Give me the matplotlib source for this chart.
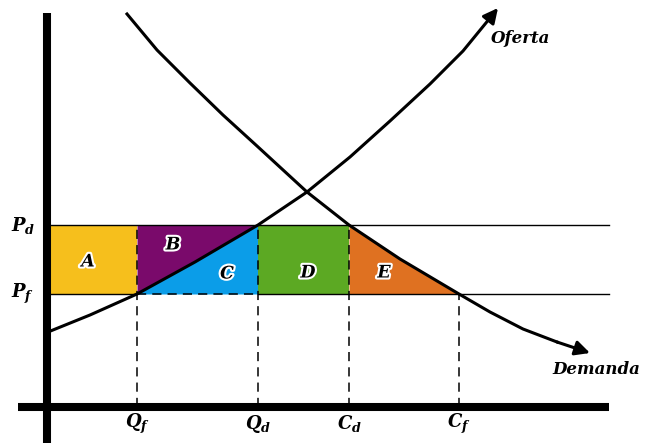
import matplotlib.pyplot as plt
import matplotlib.patheffects as pe

plt.rcParams['mathtext.fontset'] = 'custom'
plt.rcParams['mathtext.it'] = 'DejaVu Serif:italic:bold'
plt.rcParams['mathtext.rm'] = 'DejaVu Serif:bold'

# quantities and prices (origin at the axes corner)
q_f, q_d, c_d, c_f = 90, 211, 302, 412
p_d, p_f = 182, 113

# supply curve (Oferta)
supply_q = [1, 43, 90, 148, 211, 260, 303, 343, 383, 416, 443]
supply_p = [75, 92, 113, 145, 182, 215, 250, 286, 323, 356, 389]
supply_tip = (451, 399)

# demand curve (Demanda)
demand_q = [80, 110, 143, 176, 210, 260, 302, 353, 412, 443, 476, 510]
demand_p = [393, 357, 324, 292, 261, 215, 182, 148, 113, 95, 78, 65]
demand_tip = (543, 54)

area_colors = {'A': '#F6BF1C', 'B': '#7A0A6B', 'C': '#0B9DE8',
               'D': '#5CA923', 'E': '#DF7121'}

fig = plt.figure(figsize=(6.49, 4.43), dpi=100)
ax = fig.add_axes([0, 0, 1, 1])
ax.set_xlim(-47, 602)
ax.set_ylim(-36, 407)
ax.axis('off')

# shaded areas
ax.fill_between([0, q_f], p_f, p_d, color=area_colors['A'], lw=0)
i0, i1 = supply_q.index(q_f), supply_q.index(q_d) + 1
ax.fill_between(supply_q[i0:i1], supply_p[i0:i1], p_d, color=area_colors['B'], lw=0)
ax.fill_between(supply_q[i0:i1], p_f, supply_p[i0:i1], color=area_colors['C'], lw=0)
ax.fill_between([q_d, c_d], p_f, p_d, color=area_colors['D'], lw=0)
j0, j1 = demand_q.index(c_d), demand_q.index(c_f) + 1
ax.fill_between(demand_q[j0:j1], p_f, demand_p[j0:j1], color=area_colors['E'], lw=0)

# price lines
ax.plot([0, 562], [p_d, p_d], color='black', lw=1.0)
ax.plot([0, q_f], [p_f, p_f], color='black', lw=1.0)
ax.plot([q_d, 562], [p_f, p_f], color='black', lw=1.0)
ax.plot([q_f, q_d], [p_f, p_f], color='black', lw=1.1, ls=(0, (6, 4)))

# dashed guides
for q, top in [(q_f, p_d), (q_d, p_d), (c_d, p_d), (c_f, p_f)]:
    ax.plot([q, q], [0, top], color='black', lw=1.1, ls=(0, (6, 4)))

# curves
ax.plot(supply_q, supply_p, color='black', lw=2.2, solid_joinstyle='round')
ax.annotate('', xy=supply_tip, xytext=(supply_q[-1], supply_p[-1]),
            arrowprops=dict(arrowstyle='-|>', color='black', lw=2.2,
                            mutation_scale=22, shrinkA=0, shrinkB=0))
ax.plot(demand_q, demand_p, color='black', lw=2.2, solid_joinstyle='round')
ax.annotate('', xy=demand_tip, xytext=(demand_q[-1], demand_p[-1]),
            arrowprops=dict(arrowstyle='-|>', color='black', lw=2.2,
                            mutation_scale=22, shrinkA=0, shrinkB=0))

# axes
ax.plot([0, 0], [-40, 394], color='black', lw=5.8, solid_capstyle='butt')
ax.plot([-29, 562], [0, 0], color='black', lw=5.8, solid_capstyle='butt')

# area labels
glow = [pe.withStroke(linewidth=3, foreground='white')]
label_pos = {'A': (41, 145), 'B': (126, 162), 'C': (180, 133),
             'D': (261, 134), 'E': (337, 134)}
for name, (x, y) in label_pos.items():
    ax.text(x, y, name, ha='center', va='center', fontsize=12.5,
            family='DejaVu Serif', style='italic', weight='bold',
            path_effects=glow)

# axis labels
ax.text(-24, p_d, r'$P_d$', ha='center', va='center', fontsize=13)
ax.text(-24, p_f, r'$P_f$', ha='center', va='center', fontsize=13)
for q, lab in [(q_f, r'$Q_f$'), (q_d, r'$Q_d$'), (c_d, r'$C_d$'), (c_f, r'$C_f$')]:
    ax.text(q, -17, lab, ha='center', va='center', fontsize=13)

ax.text(474, 369, 'Oferta', ha='center', va='center', fontsize=12,
        family='DejaVu Serif', style='italic', weight='bold')
ax.text(549, 37, 'Demanda', ha='center', va='center', fontsize=12,
        family='DejaVu Serif', style='italic', weight='bold')

fig.savefig('out.png', dpi=100)
